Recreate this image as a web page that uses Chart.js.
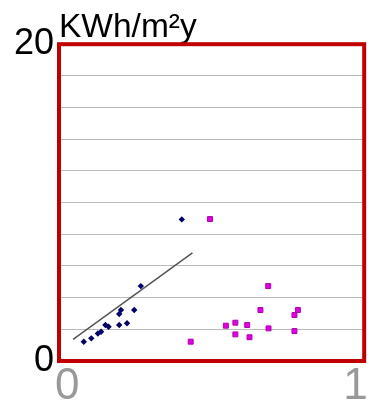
<!DOCTYPE html>
<html>
<head>
<meta charset="utf-8">
<script src="https://cdn.jsdelivr.net/npm/chart.js@4/dist/chart.umd.min.js"></script>
<style>
  body { margin: 0; background: #fff; }
  canvas { display: block; }
</style>
</head>
<body>
<canvas id="chart" width="372" height="411"></canvas>
<script>
// values
const navyX = [0.397, 0.255, 0.232, 0.186, 0.180, 0.207, 0.180, 0.143, 0.132, 0.117, 0.106, 0.083, 0.057];
const navyY = [8.94, 4.73, 3.22, 3.22, 2.97, 2.38, 2.27, 2.16, 2.27, 1.85, 1.74, 1.43, 1.22];

const magentaX = [0.495, 0.697, 0.670, 0.800, 0.788, 0.550, 0.583, 0.624, 0.583, 0.632, 0.698, 0.788, 0.428];
const magentaY = [8.96, 4.73, 3.22, 3.22, 2.90, 2.23, 2.42, 2.27, 1.68, 1.50, 2.06, 1.89, 1.22];

const trendX = [0.020, 0.434];
const trendY = [1.37, 6.83];

const yTickLabels = [0, 20];
const xTickLabels = [0, 1];
const unitLabel = "KWh/m\u00B2y";

const toPoints = (xs, ys) => xs.map((x, i) => ({ x: x, y: ys[i] }));

const frame = {
    id: "frame",
    beforeDatasetsDraw(chart) {
        const a = chart.chartArea;
        const ctx = chart.ctx;
        ctx.save();
        ctx.strokeStyle = "#c00000";
        ctx.lineWidth = 4;
        ctx.strokeRect(a.left, a.top, a.right - a.left, a.bottom - a.top);
        ctx.restore();
    }
};

const chart = new Chart(document.getElementById("chart"), {
    type: "scatter",
    plugins: [frame],
    data: {
        datasets: [
            {
                label: "trend",
                type: "line",
                data: toPoints(trendX, trendY),
                borderColor: "#555555",
                borderWidth: 1.5,
                pointRadius: 0,
                fill: false
            },
            {
                label: "navy",
                data: toPoints(navyX, navyY),
                pointStyle: "rectRot",
                pointRadius: 3.2,
                backgroundColor: "#000066",
                borderColor: "#000066",
                borderWidth: 0
            },
            {
                label: "magenta",
                data: toPoints(magentaX, magentaY),
                pointStyle: "rect",
                pointRadius: 3.5,
                backgroundColor: "#e000e0",
                borderColor: "#b000b0",
                borderWidth: 1
            }
        ]
    },
    options: {
        responsive: false,
        animation: false,
        layout: {
            autoPadding: false,
            padding: { left: 0, right: 2, top: 0, bottom: 0 }
        },
        plugins: {
            legend: { display: false },
            tooltip: { enabled: false },
            title: {
                display: true,
                text: unitLabel,
                align: "start",
                fullSize: false,
                color: "#000",
                font: { family: "'Liberation Sans', Arial, sans-serif", size: 33.5, weight: "normal" },
                padding: { top: 8, bottom: -4 }
            }
        },
        scales: {
            x: {
                type: "linear",
                min: -0.029,
                max: 1.03,
                afterBuildTicks: scale => {
                    scale.ticks = xTickLabels.map(v => ({ value: v }));
                },
                afterFit: scale => { scale.height = 50; },
                grid: { display: false, drawTicks: false },
                border: { display: false },
                ticks: {
                    color: "#999999",
                    padding: 4,
                    maxRotation: 0,
                    font: { family: "'Liberation Sans', Arial, sans-serif", size: 44, lineHeight: 1 }
                }
            },
            y: {
                type: "linear",
                min: 0,
                max: 20,
                afterFit: scale => { scale.width = 59; },
                grid: { color: "#bbbbbb", lineWidth: 1, drawTicks: false },
                border: { display: false },
                ticks: {
                    stepSize: 2,
                    autoSkip: false,
                    maxTicksLimit: 11,
                    color: "#000",
                    padding: 5,
                    font: { family: "'Liberation Sans', Arial, sans-serif", size: 36 },
                    callback: v => yTickLabels.includes(v) ? String(v) : ""
                }
            }
        }
    }
});
</script>
</body>
</html>
